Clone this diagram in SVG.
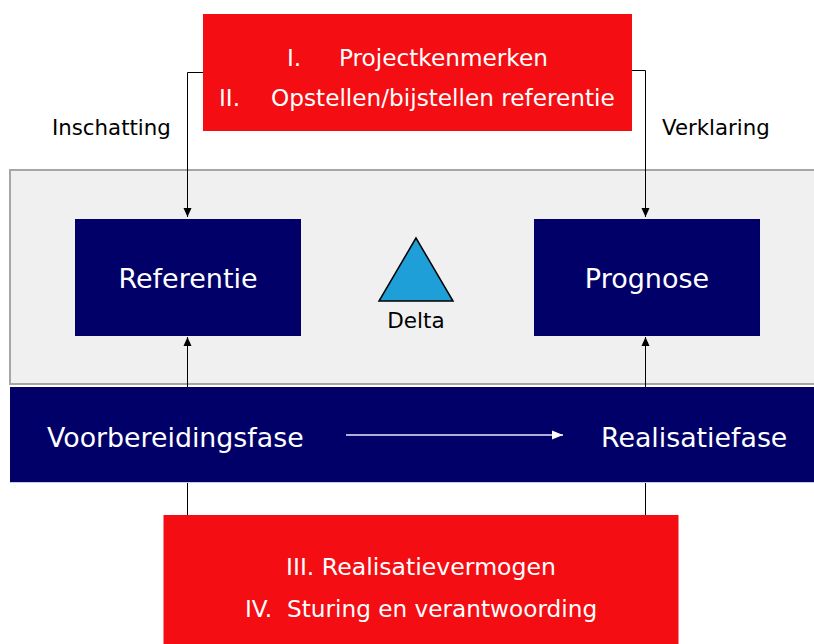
<svg xmlns="http://www.w3.org/2000/svg" width="814" height="644" viewBox="0 0 814 644">
<defs>
<marker id="ah" markerWidth="10" markerHeight="10" refX="9" refY="5" orient="auto" markerUnits="userSpaceOnUse">
<path d="M0,1 L9,5 L0,9 Z" fill="#000"/>
</marker>
<marker id="wh" markerWidth="12" markerHeight="12" refX="11" refY="6" orient="auto" markerUnits="userSpaceOnUse">
<path d="M0,1.5 L11,6 L0,10.5 Z" fill="#fff"/>
</marker>
<style>
text{font-family:"DejaVu Sans","Verdana",sans-serif;}
.red{fill:#f40d12;}
.navy{fill:#000068;}
.w{fill:#fff;}
.k{fill:#000;}
.conn{stroke:#000;stroke-width:1;fill:none;}
</style>
</defs>
<rect x="10" y="170" width="810" height="214" fill="#f0f0f0" stroke="#a6a6a6" stroke-width="2"/>
<g id="connectors">
<polyline class="conn" points="203,72.5 187.5,72.5 187.5,217" marker-end="url(#ah)"/>
<polyline class="conn" points="632,70.5 645.5,70.5 645.5,217" marker-end="url(#ah)"/>
<line class="conn" x1="187.5" y1="515" x2="187.5" y2="337" marker-end="url(#ah)"/>
<line class="conn" x1="645.5" y1="515" x2="645.5" y2="337" marker-end="url(#ah)"/>
</g>
<g id="band">
<rect x="10" y="387" width="810" height="95" class="navy"/>
<line x1="10" y1="482.5" x2="814" y2="482.5" stroke="#c8c8e8" stroke-width="1"/>
<text x="47" y="447" font-size="26.8" class="w">Voorbereidingsfase</text>
<text x="601" y="447" font-size="26.8" class="w">Realisatiefase</text>
<line x1="346" y1="435" x2="563" y2="435" stroke="#e8e8ff" stroke-width="1.5" marker-end="url(#wh)"/>
</g>
<g id="top">
<rect x="203" y="14" width="429" height="117" class="red"/>
<text y="66" font-size="23.2" class="w"><tspan x="287">I.</tspan><tspan x="339">Projectkenmerken</tspan></text>
<text y="106" font-size="23.2" class="w"><tspan x="219">II.</tspan><tspan x="271">Opstellen/bijstellen referentie</tspan></text>
</g>
<g id="referentie">
<rect x="75" y="219" width="226" height="117" class="navy"/>
<text x="188" y="288" font-size="27" text-anchor="middle" class="w">Referentie</text>
</g>
<g id="prognose">
<rect x="534" y="219" width="226" height="117" class="navy"/>
<text x="647" y="288" font-size="27" text-anchor="middle" class="w">Prognose</text>
</g>
<g id="delta">
<path d="M416,238 L379,301 L453,301 Z" fill="#1f9fd8" stroke="#000" stroke-width="1.5"/>
<text x="416" y="328" font-size="21.5" text-anchor="middle" class="k">Delta</text>
</g>
<g id="bottom">
<rect x="163.5" y="515" width="515" height="135" class="red"/>
<text x="421" y="575" font-size="23.6" text-anchor="middle" class="w">III. Realisatievermogen</text>
<text y="617" font-size="23.2" class="w"><tspan x="245">IV.</tspan><tspan x="287">Sturing en verantwoording</tspan></text>
</g>
<g id="labels">
<text x="52" y="135" font-size="21.3" class="k">Inschatting</text>
<text x="662" y="135" font-size="21.3" class="k">Verklaring</text>
</g>
</svg>
